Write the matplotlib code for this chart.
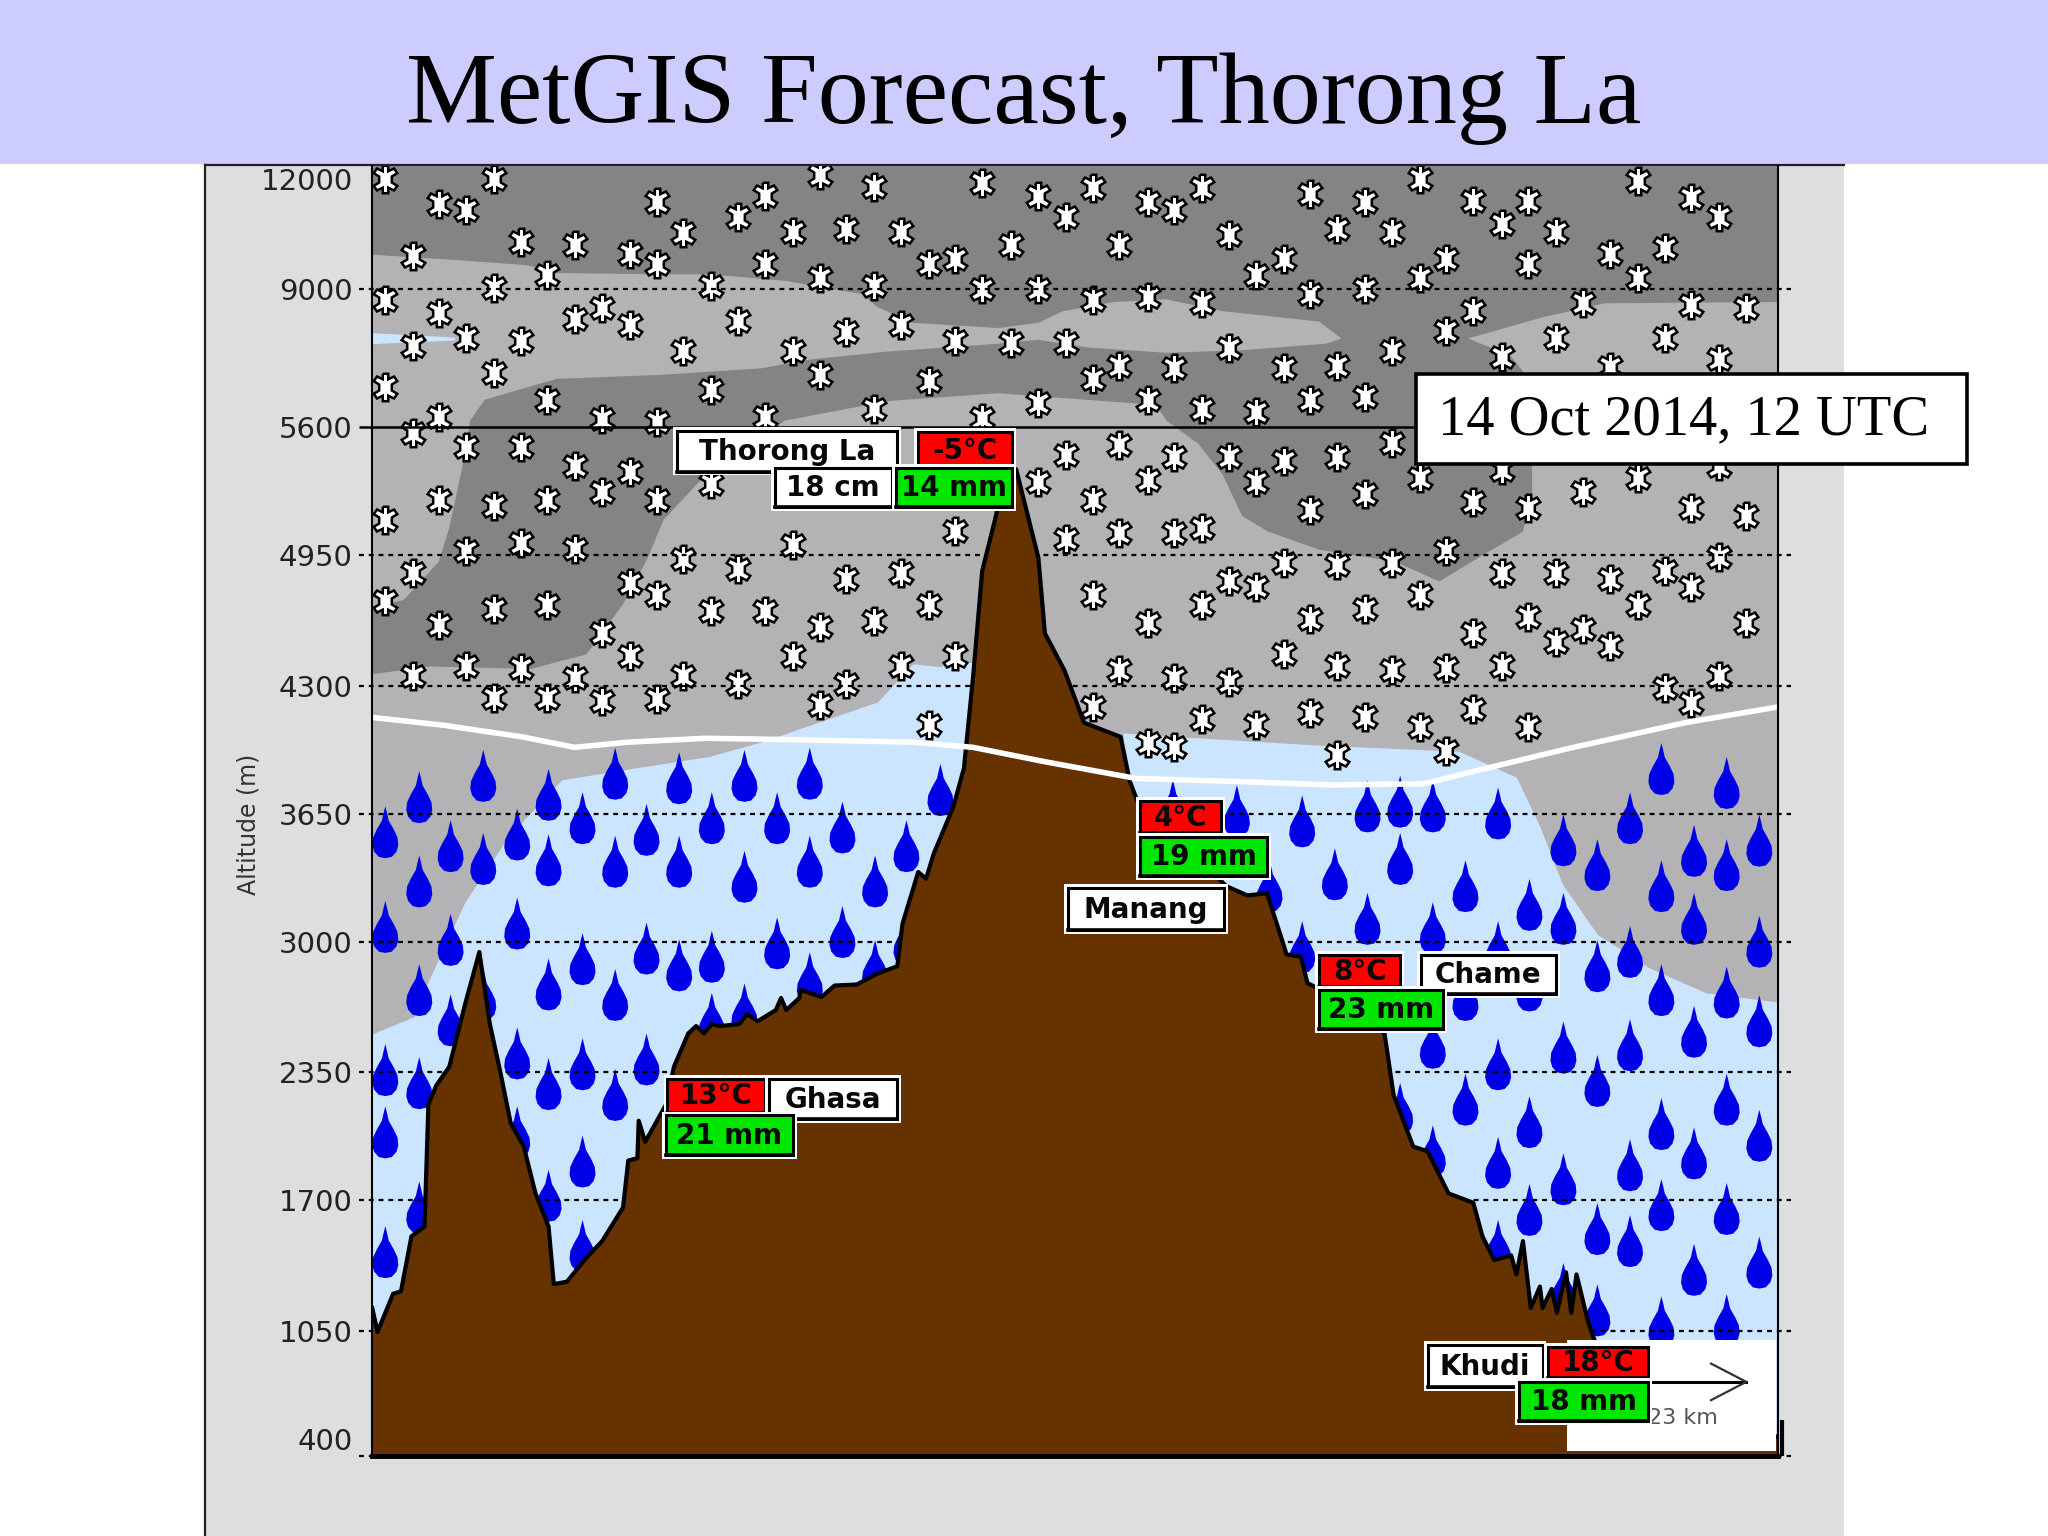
import numpy as np
import matplotlib
matplotlib.use('Agg')
import matplotlib.pyplot as plt
from matplotlib.patches import Rectangle
from matplotlib.path import Path
from matplotlib.transforms import Affine2D

# altitude axis (not linear above 5600 m)
tick_alts = [400, 1050, 1700, 2350, 3000, 3650, 4300, 4950, 5600, 9000, 12000]
tick_labels = ['400', '1050', '1700', '2350', '3000', '3650', '4300', '4950', '5600', '9000', '12000']
tick_heights = [0, 96, 196, 294, 394, 492, 590, 690, 788, 894, 978]

# terrain cross section, distance along the section and altitude
terrain_dist = [0, 4, 16, 22, 30, 40, 43, 49, 59, 71, 82, 90, 98, 106, 116, 125, 135, 139, 149, 164,
                176, 192, 196, 203, 204, 209, 221, 225, 231, 242, 248, 254, 260, 266, 281, 287, 295, 309, 313, 317,
                327, 328, 344, 354, 371, 387, 402,
                406, 418, 424, 430, 445, 453, 460, 467, 477, 485, 493, 500, 510, 515, 530, 545, 573, 580, 586, 620,
                654, 670, 685, 696, 700, 711, 716, 745, 775, 782, 797, 808, 824, 843, 850, 859, 872, 876, 881, 887,
                894, 896, 903, 907, 914, 918, 922, 931, 936, 960, 1000, 1076]
terrain_alt = [1164, 1045, 1235, 1247, 1521, 1569, 2187, 2283, 2378, 2687, 2949, 2592, 2354, 2092, 1973, 1735, 1569, 1283, 1295, 1414,
               1497, 1664, 1902, 1914, 2104, 1997, 2140, 2187, 2378, 2544, 2580, 2544, 2590, 2580, 2590, 2640, 2604, 2660, 2720, 2660,
               2720, 2760, 2725, 2782, 2787, 2842, 2878,
               3092, 3354, 3320, 3449, 3687, 3881, 4343, 4871, 5135, 5366, 5386, 5201, 4937, 4561, 4376, 4112, 4040, 3815, 3711, 3500,
               3282, 3235, 3246, 3020, 2937, 2925, 2794, 2700, 2544, 2235, 1973, 1949, 1735, 1688, 1521, 1402, 1426, 1331, 1497, 1164,
               1271, 1164, 1259, 1140, 1342, 1140, 1331, 1093, 998, 900, 700, 500]

# freezing level
freezing_dist = [0, 55, 115, 155, 195, 255, 315, 415, 460, 515, 585, 655, 735, 805, 845, 915, 1005, 1076]
freezing_alt = [4139, 4099, 4040, 3987, 4013, 4033, 4027, 4013, 3987, 3914, 3829, 3815, 3796, 3802, 3868, 3980, 4112, 4192]

# top of the rain area, either side of the pass
rain_w_dist = [0, 32, 44, 71, 102, 118, 145, 200, 258, 297, 387, 414, 433, 457, 470]
rain_w_alt = [2542, 2627, 2819, 3202, 3512, 3631, 3822, 3881, 3941, 4013, 4218, 4409, 4396, 4416, 4416]
rain_e_dist = [575, 620, 720, 832, 876, 894, 911, 938, 977, 1021, 1076]
rain_e_alt = [4060, 4040, 4000, 3967, 3835, 3584, 3294, 3037, 2872, 2746, 2700]

# heavier snow cloud outline
cloud_dist = [0, 63, 118, 141, 219, 258, 316, 375, 387, 414, 479, 510, 529, 568, 608, 651, 725, 742, 730, 666,
              608, 549, 510, 479, 395, 336, 297, 219, 141, 86, 75, 69, 59, 51, 24, 0, 0, 44, 121, 164,
              192, 211, 223, 250, 316, 395, 479, 600, 608, 632, 651, 666, 686, 725, 783, 817, 852, 881, 888, 888,
              881, 871, 839, 895, 944, 1076, 1076, 0]
cloud_alt = [9928, 9785, 9643, 9428, 9393, 9393, 9214, 8864, 8544, 8160, 8032, 8160, 8448, 8672, 8736, 8448, 8192, 7776, 7648, 7488,
             7424, 7552, 7744, 7648, 7456, 7264, 7040, 6880, 6784, 6272, 5760, 5399, 5089, 4918, 4726, 4693, 4357, 4396, 4383, 4456,
             4706, 4937, 5129, 5320, 5760, 6240, 6432, 6144, 5760, 5518, 5360, 5149, 5069, 4977, 4918, 4819, 4957, 5069, 5267, 5439,
             6976, 7360, 7776, 8288, 8640, 8672, 12356, 12356]

# snow symbols
snow_dist = [10]*5 + [31]*5 + [51]*5 + [72]*5 + [93]*6 + [114]*5 + [134]*5 + [155]*5 + [176]*5 + [197]*5 + [218]*6 + [238]*4 + \
    [259]*4 + [280]*4 + [301]*4 + [322]*4 + [343]*5 + [363]*4 + [384]*4 + [405]*4 + [426]*4 + [446]*4 + [467]*3 + [489]*2 + \
    [510]*4 + [531]*4 + [552]*6 + [572]*5 + [594]*6 + [614]*6 + [635]*6 + [656]*5 + [677]*5 + [698]*5 + [718]*6 + [739]*6 + \
    [760]*6 + [781]*5 + [802]*5 + [822]*5 + [843]*5 + [865]*5 + [885]*5 + [906]*4 + [927]*3 + [948]*4 + [969]*4 + [990]*4 + \
    [1010]*5 + [1031]*5 + [1052]*3
snow_alt = [11990, 8720, 6590, 5130, 4720, 9900, 7600, 5570, 4860, 4350, 11310, 8390, 5840, 5230, 4600,
            11160, 7780, 5500, 4970, 4400, 11990, 9010, 6920, 5200, 4680, 4240, 10270, 7710, 5500, 5010, 4390,
            9380, 6260, 5230, 4700, 4240, 10190, 8250, 5400, 4980, 4340, 8520, 5790, 5270, 4560, 4220,
            9950, 8110, 5370, 4810, 4450, 11370, 9670, 5720, 5230, 4750, 4230, 10530, 7460, 4930, 4350,
            9060, 6520, 5310, 4670, 10950, 8210, 4880, 4310, 11520, 9670, 5860, 4670, 10560, 7460, 5000, 4450,
            12100, 9290, 6870, 4590, 4200, 10630, 7930, 4830, 4310, 11780, 9060, 6050, 4620, 10560, 8110, 4860, 4400,
            9670, 6730, 4700, 4100, 9820, 7720, 5070, 4450, 11890, 8980, 5820, 10190, 7660,
            11520, 8980, 6190, 5320, 10950, 7660, 5460, 5030, 11760, 8720, 6780, 5230, 4750, 4190,
            10190, 7110, 5510, 5060, 4380, 11370, 8790, 6260, 5330, 4610, 4010, 11160, 7060, 5450, 5060, 4340, 3990,
            11760, 8650, 6050, 5090, 4700, 4130, 10480, 7550, 5450, 4820, 4320, 9360, 5960, 5320, 4790, 4100,
            9820, 7060, 5430, 4910, 4460, 11580, 8860, 6260, 5180, 4630, 4160, 10630, 7110, 5450, 4900, 4400, 3950,
            11370, 8980, 6330, 5260, 4680, 4140, 10550, 7460, 5520, 4910, 4380, 11990, 9290, 5340, 4750, 4090,
            9820, 7970, 4970, 4390, 3970, 11390, 8440, 5220, 4560, 4180, 10770, 7320, 5380, 4860, 4400,
            11390, 9670, 5190, 4640, 4090, 10550, 7780, 4860, 4520, 8650, 5270, 4580, 9950, 7080, 4830, 4500,
            11940, 9290, 5340, 4700, 10110, 7800, 4870, 4290, 11470, 8600, 5190, 4790, 4210,
            10950, 7270, 5400, 4940, 4350, 8520, 5150, 4610]

# rain symbols
rain_dist = [10]*5 + [36]*5 + [60]*3 + [85]*3 + [111]*4 + [135]*5 + [161]*5 + [186]*4 + [210]*3 + [235]*3 + [260]*3 + [285]*3 + \
    [310]*2 + [335]*3 + [360]*2 + [385]*2 + [409]*2 + [435] + [613] + [662] + [687] + [712]*2 + [737] + [762]*2 + [787]*3 + \
    [812]*4 + [837]*3 + [862]*5 + [886]*4 + [912]*5 + [938]*5 + [963]*5 + [987]*6 + [1012]*5 + [1037]*6 + [1062]*5
rain_alt = [3556, 3075, 2361, 2045, 1442, 3734, 3306, 2759, 2295, 1664, 3485, 3009, 2609, 3842, 3420, 2735,
            3544, 3092, 2444, 2045, 3746, 3413, 2787, 2290, 1723, 3627, 2913, 2390, 1897, 1473,
            3853, 3406, 2735, 2235, 3568, 2966, 2414, 3830, 3406, 2882, 3627, 2925, 2616, 3842, 3330, 2663,
            3627, 2992, 3853, 3406, 2818, 3580, 3049, 3306, 2878, 3485, 3009, 3770,
            3690, 3663, 3282, 3611, 2973, 3342, 3687, 3116, 3711, 3420, 2164, 3687, 3068, 2497, 1949,
            3282, 2735, 2211, 3651, 2973, 2390, 1890, 1473, 3187, 2782, 2097, 1652,
            3515, 3116, 2473, 1807, 1259, 3389, 2878, 2306, 1557, 1152, 3627, 2949, 2485, 1878, 1497,
            3877, 3282, 2759, 2087, 1676, 1093, 3461, 3116, 2552, 1938, 1354,
            3806, 3389, 2747, 2211, 1657, 1104, 3513, 3000, 2604, 2028, 1390]

plt.rcParams['font.family'] = ['DejaVu Sans']

GREY_BG = '#dedee0'
GREY_MID = '#b3b2b5'
GREY_DARK = '#848386'
RAIN_BLUE = '#cce5ff'
DROP_BLUE = '#0000e6'
BROWN = '#663300'
RED = '#ff0000'
GREEN = '#00e600'

fig = plt.figure(figsize=(20.48, 15.36), dpi=100, facecolor='white')
S = 2048 / 1568
# positions below are given on a 1568x1176 layout grid
grid = Affine2D().scale(S, -S).translate(0, 1536)


def add_rect(x0, y0, x1, y1, face, edge='none', lw=0, z=6):
    r = Rectangle((x0, y0), x1 - x0, y1 - y0, facecolor=face, edgecolor=edge, linewidth=lw,
                  transform=grid, zorder=z)
    fig.add_artist(r)


def add_line(xs, ys, color='black', lw=1.5, z=6):
    fig.add_artist(plt.Line2D(xs, ys, color=color, linewidth=lw, transform=grid, zorder=z))


def add_text(x, y, s, **kw):
    fig.text(x, y, s, transform=grid, ha=kw.pop('ha', 'center'), va=kw.pop('va', 'center'), **kw)


def label_box(x0, y0, x1, y1, s, face='white'):
    add_rect(x0 - 3, y0 - 3, x1 + 3, y1 + 3, 'white', z=7)
    add_rect(x0, y0, x1, y1, face, edge='black', lw=2.2, z=7)
    add_line([x0, x1], [y1, y1], lw=2.6, z=7)
    add_text((x0 + x1) / 2, (y0 + y1) / 2 + 0.5, s, fontsize=20, fontweight='bold', color='#080808', zorder=8)


# slide background
add_rect(0, 0, 1568, 125.5, '#ccccff', z=-5)
add_rect(157, 126, 1412, 1176, GREY_BG, z=-5)
add_line([157, 157], [126, 1176], color='#222222', lw=1.6, z=-4)
add_line([157, 1412], [126.5, 126.5], color='#222222', lw=1.6, z=-4)
add_text(784, 75.5, 'MetGIS Forecast, Thorong La', family='Liberation Serif', fontsize=73.5, color='black', zorder=6)

ax = fig.add_axes([285 * S / 2048, (1176 - 1115) / 1176, (1361 - 285) / 1568, (1115 - 127) / 1176])
alt_knots = tick_alts + [12356]
height_knots = tick_heights + [988]
ax.set_yscale('function', functions=(lambda a: np.interp(a, alt_knots, height_knots),
                                     lambda h: np.interp(h, height_knots, alt_knots)))
ax.set_xlim(0, 1076)
ax.set_ylim(400, 12356)
ax.set_facecolor(GREY_MID)
ax.set_xticks([])
ax.set_yticks(tick_alts)
ax.set_yticklabels(tick_labels, fontsize=21, color='#222222')
ax.minorticks_off()
ax.tick_params(axis='y', length=0, pad=14)
ax.get_yticklabels()[0].set_va('bottom')
ax.spines['top'].set_visible(False)
ax.spines['left'].set_linewidth(1.5)
ax.spines['right'].set_linewidth(1.5)
ax.spines['bottom'].set_linewidth(3.5)
for side in ['left', 'right', 'bottom']:
    ax.spines[side].set_zorder(6)

# cloud and rain areas
ax.fill(cloud_dist, cloud_alt, color=GREY_DARK, lw=0, zorder=1)
ax.fill_between([0, 63], [7920, 7810], [7650, 7740], color=RAIN_BLUE, lw=0, zorder=1)
ax.fill_between(rain_w_dist, rain_w_alt, 400, color=RAIN_BLUE, lw=0, zorder=1)
ax.fill_between(rain_e_dist, rain_e_alt, 400, color=RAIN_BLUE, lw=0, zorder=1)

# symbols
flake = [(-.2, 1), (.2, 1), (.2, .6), (.62, .8), (.86, .46), (.46, .22), (.46, -.22), (.86, -.46), (.62, -.8),
         (.2, -.6), (.2, -1), (-.2, -1), (-.2, -.6), (-.62, -.8), (-.86, -.46), (-.46, -.22), (-.46, .22),
         (-.86, .46), (-.62, .8), (-.2, .6), (-.2, 1)]
drop = [(0, 1), (.07, .72), (.13, .45), (.33, .1), (.47, -.2), (.5, -.5), (.43, -.75), (.25, -.95), (0, -1),
        (-.25, -.95), (-.43, -.75), (-.5, -.5), (-.47, -.2), (-.33, .1), (-.13, .45), (-.07, .72), (0, 1)]
ax.scatter(snow_dist, snow_alt, s=390, marker=Path(flake), facecolor='white', edgecolor='black', linewidth=1.8,
           joinstyle='miter', zorder=2)
ax.scatter(rain_dist, rain_alt, s=1400, marker=Path(drop), facecolor=DROP_BLUE, edgecolor='none', zorder=2)

# altitude lines, none at the top value
dashed = [a for a in tick_alts if a not in (5600, 12000)]
ax.hlines(dashed, -10, 1086, color='black', lw=1.6, linestyles=(0, (2.2, 2.2)), zorder=3, clip_on=False)
ax.hlines(5600, -10, 1086, color='black', lw=1.8, zorder=3, clip_on=False)

# terrain
ax.fill_between(terrain_dist, terrain_alt, 400, color=BROWN, lw=0, zorder=4)
ax.plot(terrain_dist, terrain_alt, color='black', lw=3, zorder=4)
ax.plot(freezing_dist, freezing_alt, color='white', lw=4, zorder=5)
ax.vlines(1079, 400, 590, color='black', lw=3, zorder=5, clip_on=False)

add_text(190, 631, 'Altitude (m)', rotation=90, fontsize=17, color='#333333')

# scale box
add_rect(1200, 1026, 1360, 1111, 'white', z=6)
add_line([1262, 1337], [1058, 1058], lw=2.2)
add_line([1310, 1337, 1310], [1044, 1058, 1072], color='#333333', lw=1.6)
add_text(1315, 1086, '23 km', ha='right', fontsize=16, color='#555555', zorder=6)

# place labels
label_box(518, 330, 687, 361, 'Thorong La')
label_box(703, 331, 775, 358, '-5°C', RED)
label_box(593, 358, 683, 388, '18 cm')
label_box(686, 358, 775, 388, '14 mm', GREEN)
label_box(511, 826, 586, 852, '13°C', RED)
label_box(589, 826, 687, 857, 'Ghasa')
label_box(510, 854, 607, 884, '21 mm', GREEN)
label_box(873, 613, 935, 638, '4°C', RED)
label_box(873, 641, 970, 671, '19 mm', GREEN)
label_box(818, 680, 937, 712, 'Manang')
label_box(1010, 731, 1072, 756, '8°C', RED)
label_box(1088, 731, 1191, 761, 'Chame')
label_box(1010, 758, 1105, 788, '23 mm', GREEN)
label_box(1093, 1030, 1181, 1062, 'Khudi')
label_box(1185, 1031, 1262, 1055, '18°C', RED)
label_box(1163, 1058, 1262, 1088, '18 mm', GREEN)

# date box
add_rect(1084, 286, 1506, 355, 'white', edge='black', lw=2.6, z=9)
add_text(1101, 322, '14 Oct 2014, 12 UTC', ha='left', family='Liberation Serif', fontsize=40.7, color='black', zorder=10)

fig.savefig('out.png', dpi=100)
